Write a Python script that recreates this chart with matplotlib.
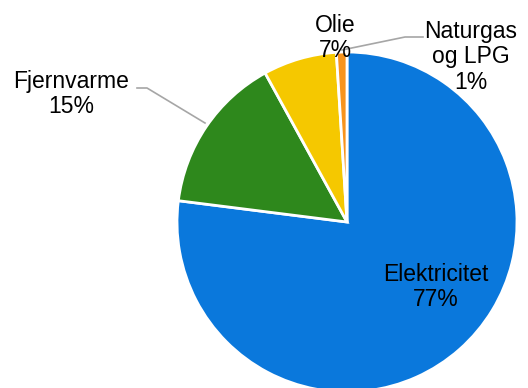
import matplotlib.pyplot as plt

plt.rcParams['font.family'] = ['Liberation Sans', 'DejaVu Sans']

# Energiforbrug fordelt på kilde (andel i %)
sources = ["Elektricitet", "Fjernvarme", "Olie", "Naturgas\nog LPG"]
shares = [77, 15, 7, 1]
colors = ["#0A78DC", "#2E881C", "#F5C800", "#F7941D"]

W, H = 528, 388
fig = plt.figure(figsize=(W / 100, H / 100), dpi=100)
ax = fig.add_axes([0, 0, 1, 1])

cx, cy, r = 347, H - 222, 170
ax.pie(shares, colors=colors, startangle=90, counterclock=False,
       center=(cx, cy), radius=r, frame=True,
       wedgeprops=dict(edgecolor="white", linewidth=2))
ax.set_xlim(0, W)
ax.set_ylim(0, H)
ax.set_aspect("equal")
ax.axis("off")

labels = [f"{s}\n{v}%" for s, v in zip(sources, shares)]
fs = 16.5
kw = dict(ha="center", va="center", fontsize=fs, linespacing=1.15)
ax.text(436, H - 287, labels[0], **kw)
ax.text(71, H - 94, labels[1], **kw)
ax.text(335, H - 38, labels[2], **kw)
ax.text(471, H - 57, labels[3], **kw)

# leader lines
ax.plot([137, 147, 205], [H - 88, H - 88, H - 123], color="#A6A6A6", lw=1.2)
ax.plot([342, 405, 423], [H - 50, H - 37, H - 37], color="#A6A6A6", lw=1.2)

fig.savefig("out.png", dpi=100)
